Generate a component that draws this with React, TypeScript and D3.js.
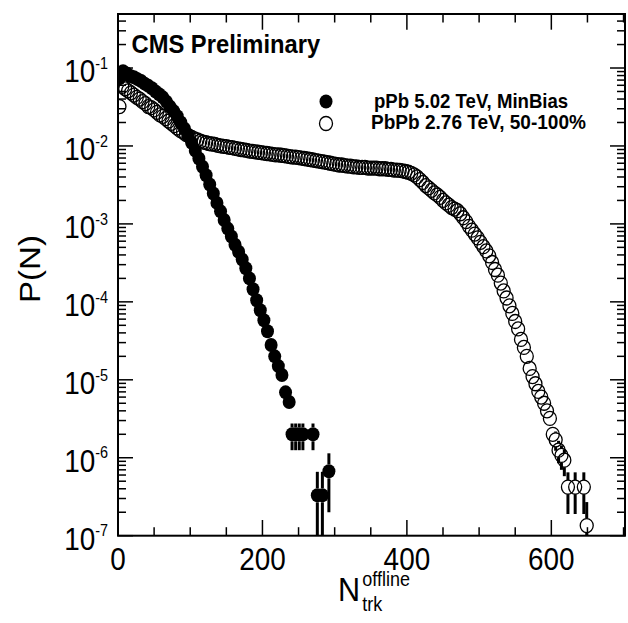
import React from "react";
import * as d3 from "d3";

// ---- data ----
const ppbPoints: [number, number][] = [
  [2, 7.4e-2], [7, 9.1e-2], [12, 8.5e-2], [17, 7.9e-2], [22, 7.6e-2], [27, 7.2e-2],
  [32, 6.8e-2], [37, 6.3e-2], [42, 5.9e-2], [47, 5.5e-2], [52, 5.0e-2], [57, 4.6e-2],
  [62, 4.2e-2], [67, 3.7e-2], [72, 3.2e-2], [77, 2.8e-2], [82, 2.4e-2], [87, 2.0e-2],
  [92, 1.66e-2], [97, 1.35e-2], [102, 1.1e-2], [107, 8.7e-3], [112, 6.9e-3], [117, 5.4e-3],
  [122, 4.2e-3], [127, 3.2e-3], [132, 2.45e-3], [137, 1.86e-3], [142, 1.45e-3], [147, 1.12e-3],
  [152, 8.7e-4], [157, 6.9e-4], [162, 5.4e-4], [167, 4.4e-4], [172, 3.5e-4], [177, 2.7e-4],
  [182, 2.0e-4], [187, 1.45e-4], [192, 1.05e-4], [197, 7.8e-5], [202, 5.8e-5], [207, 4.2e-5],
  [212, 2.8e-5], [217, 2.0e-5], [222, 1.5e-5], [227, 1.15e-5], [232, 6.9e-6], [237, 5.2e-6],
];
const ppbTailN = [241, 246, 251, 256, 270, 276, 283, 292];
const ppbTailP = [2.0e-6, 2.0e-6, 2.0e-6, 2.0e-6, 2.0e-6, 3.3e-7, 3.3e-7, 6.7e-7];
const ppbTailErr = [7.5e-7, 7.5e-7, 7.5e-7, 7.5e-7, 7.5e-7, 3.3e-7, 3.3e-7, 4.7e-7];

const pbpbPoints: [number, number][] = [
  [2, 3.2e-2], [6, 5.8e-2], [10, 5.4e-2], [14, 5.1e-2], [18, 4.8e-2], [22, 4.5e-2], [26, 4.2e-2],
  [30, 4.0e-2], [34, 3.7e-2], [38, 3.5e-2], [42, 3.2e-2], [46, 3.1e-2], [50, 2.9e-2], [54, 2.7e-2],
  [58, 2.5e-2], [62, 2.4e-2], [66, 2.24e-2], [70, 2.09e-2], [74, 1.95e-2], [78, 1.82e-2],
  [82, 1.7e-2], [86, 1.58e-2], [90, 1.51e-2], [94, 1.41e-2], [98, 1.35e-2], [102, 1.29e-2],
  [106, 1.23e-2], [110, 1.2e-2], [114, 1.15e-2], [118, 1.12e-2], [122, 1.1e-2], [126, 1.07e-2],
  [130, 1.06e-2], [134, 1.05e-2], [138, 1.02e-2], [142, 1.0e-2], [146, 9.9e-3], [150, 9.8e-3],
  [154, 9.6e-3], [158, 9.5e-3], [162, 9.3e-3], [166, 9.2e-3], [170, 9.0e-3], [174, 8.9e-3],
  [178, 8.8e-3], [182, 8.6e-3], [186, 8.5e-3], [190, 8.4e-3], [194, 8.3e-3], [198, 8.2e-3],
  [202, 8.1e-3], [206, 8.0e-3], [210, 7.9e-3], [214, 7.8e-3], [218, 7.7e-3], [222, 7.7e-3],
  [226, 7.6e-3], [230, 7.5e-3], [234, 7.4e-3], [238, 7.3e-3], [242, 7.2e-3], [246, 7.2e-3],
  [250, 7.1e-3], [254, 7.0e-3], [258, 6.9e-3], [262, 6.8e-3], [266, 6.7e-3], [270, 6.6e-3],
  [274, 6.5e-3], [278, 6.4e-3], [282, 6.3e-3], [286, 6.2e-3], [290, 6.1e-3], [294, 6.0e-3],
  [298, 5.9e-3], [302, 5.8e-3], [306, 5.7e-3], [310, 5.7e-3], [314, 5.6e-3], [318, 5.5e-3],
  [322, 5.5e-3], [326, 5.4e-3], [330, 5.4e-3], [334, 5.3e-3], [338, 5.3e-3], [342, 5.3e-3],
  [346, 5.2e-3], [350, 5.2e-3], [354, 5.2e-3], [358, 5.2e-3], [362, 5.1e-3], [366, 5.1e-3],
  [370, 5.1e-3], [374, 5.0e-3], [378, 5.0e-3], [382, 4.9e-3], [386, 4.9e-3], [390, 4.85e-3],
  [394, 4.8e-3], [398, 4.7e-3], [402, 4.6e-3], [406, 4.45e-3], [410, 4.25e-3], [414, 4.0e-3],
  [418, 3.7e-3], [422, 3.4e-3], [426, 3.1e-3], [430, 2.9e-3], [434, 2.7e-3], [438, 2.5e-3],
  [442, 2.35e-3], [446, 2.19e-3], [450, 2.0e-3], [454, 1.86e-3], [458, 1.74e-3], [462, 1.62e-3],
  [466, 1.55e-3], [470, 1.48e-3], [474, 1.35e-3], [478, 1.2e-3], [482, 1.07e-3], [486, 9.3e-4],
  [490, 8.3e-4], [494, 7.4e-4], [498, 6.6e-4], [502, 5.8e-4], [506, 5.1e-4], [510, 4.5e-4],
  [514, 3.9e-4], [518, 3.2e-4], [522, 2.6e-4], [526, 2.2e-4], [530, 1.74e-4], [534, 1.38e-4],
  [538, 1.12e-4], [542, 8.9e-5], [546, 7.1e-5], [550, 5.6e-5], [554, 4.5e-5], [558, 3.3e-5],
  [562, 2.6e-5], [566, 2.0e-5], [570, 1.4e-5], [574, 1.1e-5], [578, 8.9e-6], [582, 7.1e-6],
  [586, 6.0e-6], [590, 5.0e-6], [594, 4.0e-6], [598, 3.2e-6], [602, 2.0e-6], [606, 1.7e-6],
  [610, 1.25e-6], [614, 1.07e-6], [618, 9.3e-7],
];
const pbpbTailN = [623, 633, 645, 649];
const pbpbTailP = [4.2e-7, 4.2e-7, 4.2e-7, 1.35e-7];
const pbpbTailErr = [2.3e-7, 2.3e-7, 2.3e-7, 1.35e-7];
const pbpbErrN = [606, 610, 614, 618];
const pbpbErrV = [4.7e-7, 4.0e-7, 3.7e-7, 3.5e-7];

const xMajorTicks = [0, 200, 400, 600];
const xMinorTicks = [50, 100, 150, 250, 300, 350, 450, 500, 550, 650, 700];
const yDecades = [-7, -6, -5, -4, -3, -2, -1];
const legendLabels = ["pPb 5.02 TeV, MinBias", "PbPb 2.76 TeV, 50-100%"];
const title = "CMS Preliminary";

// ---- layout ----
const W = 628, H = 623;
const L = 118, R = 625, T = 14, B = 535.7;
const FONT = "'Liberation Sans', Arial, Helvetica, sans-serif";
const RX = 6.5, RY = 7;

export default function App() {
  const x = d3.scaleLinear().domain([0, 702]).range([L, R]);
  const y = d3.scaleLog().domain([1e-7, 0.493]).range([B, T]);

  const yMinor: number[] = [];
  for (const d of yDecades) for (let k = 2; k <= 9; k++) {
    const v = k * Math.pow(10, d);
    if (v < 0.493) yMinor.push(v);
  }

  const errBar = (n: number, p: number, e: number, key: string) => {
    const cx = x(n), cy = y(p);
    const top = y(p + e);
    const lo = p - e;
    const bot = lo > 1e-7 ? y(lo) : B;
    const segs: JSX.Element[] = [];
    if (top < cy - RY) segs.push(<line key={key + "u"} x1={cx} x2={cx} y1={top} y2={cy - RY} />);
    if (bot > cy + RY) segs.push(<line key={key + "d"} x1={cx} x2={cx} y1={cy + RY} y2={bot} />);
    return segs;
  };

  const ppbAll = ppbPoints.concat(ppbTailN.map((n, i) => [n, ppbTailP[i]] as [number, number]));
  const pbpbAll = pbpbPoints.concat(pbpbTailN.map((n, i) => [n, pbpbTailP[i]] as [number, number]));

  return (
    <svg width={W} height={H} style={{ position: "absolute", left: 0, top: 0, background: "#fff" }}
      fontFamily={FONT}>
      <defs>
        <clipPath id="plot"><rect x={L} y={T} width={R - L} height={B - T} /></clipPath>
      </defs>
      <rect x={0} y={0} width={W} height={H} fill="#fff" />

      {/* data */}
      <g clipPath="url(#plot)">
        <g stroke="#000" strokeWidth={3}>
          {ppbTailN.map((n, i) => errBar(n, ppbTailP[i], ppbTailErr[i], "pe" + i))}
          {pbpbTailN.map((n, i) => errBar(n, pbpbTailP[i], pbpbTailErr[i], "be" + i))}
          {pbpbErrN.map((n, i) => {
            const p = pbpbPoints.find(d => d[0] === n)![1];
            return errBar(n, p, pbpbErrV[i], "bq" + i);
          })}
        </g>
        {ppbAll.map(([n, p], i) => (
          <ellipse key={"p" + i} cx={x(n)} cy={y(p)} rx={RX} ry={RY} fill="#000" />
        ))}
        {pbpbAll.map(([n, p], i) => (
          <ellipse key={"b" + i} cx={x(n)} cy={y(p)} rx={RX} ry={RY} fill="none" stroke="#000" strokeWidth={1.3} />
        ))}
      </g>

      {/* frame & ticks */}
      <g stroke="#000" strokeWidth={1.5} fill="none">
        <rect x={L} y={T} width={R - L} height={B - T} strokeWidth={2} />
        {xMajorTicks.map(t => (
          <g key={"xM" + t}>
            <line x1={x(t)} x2={x(t)} y1={B} y2={B - 15.7} />
            <line x1={x(t)} x2={x(t)} y1={T} y2={T + 15.7} />
          </g>
        ))}
        {xMinorTicks.map(t => (
          <g key={"xm" + t}>
            <line x1={x(t)} x2={x(t)} y1={B} y2={B - 8.5} />
            <line x1={x(t)} x2={x(t)} y1={T} y2={T + 8.5} />
          </g>
        ))}
        {yDecades.map(d => (
          <g key={"yM" + d}>
            <line x1={L} x2={L + 15} y1={y(Math.pow(10, d))} y2={y(Math.pow(10, d))} />
            <line x1={R} x2={R - 15} y1={y(Math.pow(10, d))} y2={y(Math.pow(10, d))} />
          </g>
        ))}
        {yMinor.map((v, i) => (
          <g key={"ym" + i}>
            <line x1={L} x2={L + 8} y1={y(v)} y2={y(v)} />
            <line x1={R} x2={R - 8} y1={y(v)} y2={y(v)} />
          </g>
        ))}
      </g>

      {/* y tick labels */}
      {yDecades.map(d => (
        <g key={"yl" + d} transform={`translate(108,${y(Math.pow(10, d)) + 14}) scale(0.9,1)`}>
          <text textAnchor="end" fontSize={31} fill="#000">
            10<tspan fontSize={16} dy={-13.3}>{d}</tspan>
          </text>
        </g>
      ))}
      {/* x tick labels */}
      {xMajorTicks.map(t => (
        <g key={"xl" + t} transform={`translate(${x(t)},569.5) scale(0.9,1)`}>
          <text textAnchor="middle" fontSize={31} fill="#000">{t}</text>
        </g>
      ))}

      {/* axis titles */}
      <g transform="translate(40,269) scale(0.9,1) rotate(-90)">
        <text textAnchor="middle" fontSize={33} fill="#000">P(N)</text>
      </g>
      <g transform="translate(338,601) scale(0.9,1)">
        <text fontSize={34} fill="#000">N</text>
        <text x={27} y={-15} fontSize={20} fill="#000">offline</text>
        <text x={27} y={10} fontSize={20} fill="#000">trk</text>
      </g>

      {/* title */}
      <g transform="translate(131.5,52.7) scale(0.95,1)">
        <text fontSize={25} fontWeight="bold" fill="#000">{title}</text>
      </g>

      {/* legend */}
      <ellipse cx={326} cy={101.5} rx={RX} ry={RY} fill="#000" />
      <ellipse cx={326} cy={123.5} rx={RX} ry={RY} fill="none" stroke="#000" strokeWidth={1.3} />
      <g transform="translate(374,107.5) scale(0.93,1)">
        <text fontSize={20} fontWeight="bold" fill="#000">{legendLabels[0]}</text>
      </g>
      <g transform="translate(371,129) scale(0.93,1)">
        <text fontSize={20.5} fontWeight="bold" fill="#000">{legendLabels[1]}</text>
      </g>
    </svg>
  );
}
